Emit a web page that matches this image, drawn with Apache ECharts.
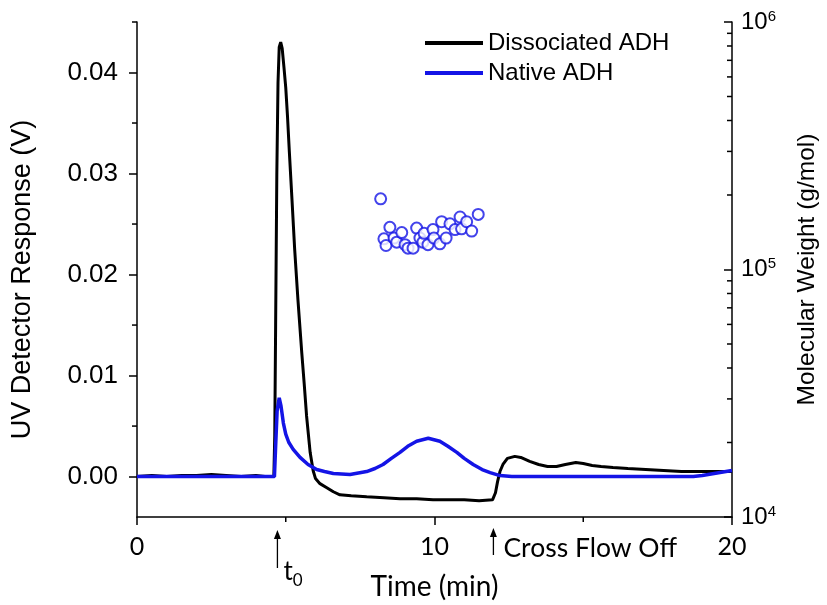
<!DOCTYPE html>
<html><head><meta charset="utf-8">
<script src="https://cdn.jsdelivr.net/npm/echarts@6/dist/echarts.min.js"></script>
<style>html,body{margin:0;padding:0;background:#fff}#c{width:827px;height:605px}</style>
</head><body><div id="c"></div>
<script>
// ---- data ----
const dissocTime = [0.0,0.5,1.0,1.5,2.0,2.5,3.0,3.5,4.0,4.3,4.60,4.63,4.66,4.70,4.74,4.78,4.83,4.88,4.94,5.00,5.06,5.12,5.21,5.30,5.41,5.54,5.62,5.70,5.82,5.92,6.00,6.15,6.38,6.60,6.82,7.2,7.72,8.3,8.84,9.4,9.95,10.5,11.0,11.5,11.95,12.05,12.12,12.2,12.3,12.45,12.7,12.9,13.2,13.5,13.8,14.1,14.4,14.75,15.0,15.3,15.6,16.0,16.5,17.1,17.7,18.3,18.9,19.4,20.0];
const dissocUV = [0.0000,0.0001,0.0000,0.0001,0.0001,0.0002,0.0001,0.0000,0.0001,0.0000,0.0000,0.0040,0.0150,0.0300,0.0390,0.0425,0.0430,0.0424,0.0405,0.0385,0.0356,0.0322,0.0274,0.0225,0.0175,0.0122,0.0092,0.0060,0.0024,0.0006,-0.0002,-0.0007,-0.0011,-0.0015,-0.0018,-0.0019,-0.0020,-0.0021,-0.0022,-0.0022,-0.0023,-0.0023,-0.0023,-0.0024,-0.0023,-0.0016,-0.0005,0.0005,0.0012,0.0018,0.0020,0.0019,0.0015,0.0012,0.0010,0.0010,0.0012,0.0014,0.0013,0.0011,0.0010,0.0009,0.0008,0.0007,0.0006,0.0005,0.0005,0.0005,0.0005];
const nativeTime = [0.0,1.0,2.0,3.0,4.0,4.62,4.66,4.71,4.78,4.84,4.92,5.00,5.10,5.25,5.48,5.75,6.04,6.30,6.60,7.16,7.72,8.00,8.27,8.55,8.84,9.10,9.40,9.79,10.18,10.45,10.75,11.00,11.30,11.60,11.87,12.2,12.6,13.5,15.0,16.5,18.0,18.7,19.0,19.4,20.0];
const nativeUV = [0.0000,0.0000,0.0000,0.0000,0.0000,0.0000,0.0030,0.0065,0.0078,0.0070,0.0053,0.0042,0.0034,0.0027,0.0019,0.0012,0.0007,0.0005,0.0003,0.0002,0.0005,0.0008,0.0012,0.0018,0.0024,0.0030,0.0035,0.0038,0.0035,0.0030,0.0024,0.0018,0.0012,0.0007,0.0004,0.0001,0.0000,0.0000,0.0000,0.0000,0.0000,0.0000,0.0001,0.0003,0.0006];
const mwTime = [8.19,8.30,8.37,8.50,8.64,8.73,8.90,9.01,9.11,9.28,9.40,9.51,9.61,9.65,9.78,9.95,9.98,10.18,10.24,10.39,10.52,10.69,10.86,10.91,11.08,11.25,11.47];
const mwValue = [193000,133000,125000,148000,134000,129000,141000,126000,122000,122000,147000,134000,129000,140000,126000,145000,134000,127000,156000,134000,153000,145000,163000,146000,156000,143000,167000];
const xMinorTicks = [5,15];
const uvTicks = [0,0.01,0.02,0.03,0.04];
const uvMinorTicks = [0.005,0.015,0.025,0.035,0.045];
const mwMinorTicks = [2e4,3e4,4e4,5e4,6e4,7e4,8e4,9e4,2e5,3e5,4e5,5e5,6e5,7e5,8e5,9e5];
const annotations = [
  {t:4.72, label:'{t|t}{s|0}', lineTop:13, lineBottom:51, textDx:6, textDy:57},
  {t:11.98, label:'{c|Cross Flow Off}', lineTop:11, lineBottom:38, textDx:10, textDy:31}
];

const BLUE = '#1414e6';
const TL = {color:'#000', width:1.5};
const chart = echarts.init(document.getElementById('c'));
const option = {
  animation:false,
  backgroundColor:'#fff',
  grid:{left:137, right:95, top:22, bottom:88, outerBoundsMode:'none', containLabel:false},
  legend:{
    data:['Dissociated ADH','Native ADH'], orient:'vertical', left:425, top:31, padding:0,
    itemWidth:58, itemHeight:4, itemGap:6, icon:'rect',
    textStyle:{fontFamily:'Liberation Sans, Arial', fontSize:24, color:'#000'}
  },
  xAxis:{
    type:'value', min:0, max:20, interval:10, position:'bottom',
    axisLine:{show:true, onZero:false, lineStyle:TL}, splitLine:{show:false},
    axisTick:{show:true, inside:false, length:8, lineStyle:TL},
    axisLabel:{fontFamily:'Lato', fontSize:25, color:'#000', margin:17},
    name:'Time (min)', nameLocation:'middle', nameGap:56,
    nameTextStyle:{fontFamily:'Lato', fontSize:28, color:'#000'}
  },
  yAxis:[
    {
      type:'value', min:-0.004, max:0.045, position:'left',
      axisLine:{show:true, onZero:false, lineStyle:TL}, splitLine:{show:false},
      axisTick:{show:true, inside:false, length:8, customValues:uvTicks, lineStyle:TL},
      axisLabel:{customValues:uvTicks, fontFamily:'Liberation Sans, Arial', fontSize:26, color:'#000', margin:19,
        formatter:v=>{const r=Math.round(v*100); return Math.abs(v*100-r)<1e-6 ? (r/100).toFixed(2) : '';}},
      name:'UV Detector Response (V)', nameLocation:'middle', nameGap:101, nameRotate:90,
      nameTextStyle:{fontFamily:'Liberation Sans, Arial', fontSize:27, color:'#000', padding:[0,20,0,0]}
    },
    {
      type:'log', logBase:10, min:1e4, max:1e6, position:'right',
      axisLine:{show:true, onZero:false, lineStyle:TL}, splitLine:{show:false}, minorTick:{show:false},
      axisTick:{show:true, inside:true, length:8, lineStyle:TL},
      axisLabel:{color:'#000', margin:9,
        formatter:v=>'{a|10}{b|'+Math.round(Math.log10(v))+'}',
        rich:{a:{fontFamily:'Liberation Sans, Arial', fontSize:24, lineHeight:26, color:'#000'},
              b:{fontFamily:'Liberation Sans, Arial', fontSize:15, verticalAlign:'top', lineHeight:26, color:'#000'}}},
      name:'Molecular Weight (g/mol)', nameLocation:'middle', nameGap:63, nameRotate:90,
      nameTextStyle:{fontFamily:'Liberation Sans, Arial', fontSize:24.5, color:'#000'}
    }
  ],
  series:[
    {name:'Dissociated ADH', type:'line', yAxisIndex:0, symbol:'none', z:2,
     lineStyle:{color:'#000', width:3}, itemStyle:{color:'#000'},
     data:dissocTime.map((t,i)=>[t, dissocUV[i]])},
    {name:'Native ADH', type:'line', yAxisIndex:0, symbol:'none', z:3,
     lineStyle:{color:BLUE, width:3.5}, itemStyle:{color:BLUE},
     data:nativeTime.map((t,i)=>[t, nativeUV[i]])},
    {name:'MW', type:'scatter', yAxisIndex:1, symbol:'emptyCircle', symbolSize:11, z:4,
     itemStyle:{color:BLUE, borderColor:BLUE, borderWidth:2},
     data:mwTime.map((t,i)=>[t, mwValue[i]])}
  ]
};
chart.setOption(option);

const xPx = v => chart.convertToPixel({xAxisIndex:0}, v);
const yPx = v => chart.convertToPixel({yAxisIndex:0}, v);
const mwPx = v => chart.convertToPixel({yAxisIndex:1}, v);
const left = xPx(0), right = xPx(20), bottomY = yPx(-0.004);
const gfx = [];
const tick = (x1,y1,x2,y2) => gfx.push({type:'line', shape:{x1,y1,x2,y2}, style:{stroke:'#000', lineWidth:1.5}});
xMinorTicks.forEach(v=>{const x=xPx(v); tick(x,bottomY,x,bottomY+5);});
uvMinorTicks.forEach(v=>{const y=yPx(v); tick(left-5,y,left,y);});
mwMinorTicks.forEach(v=>{const y=mwPx(v); tick(right-5,y,right,y);});
annotations.forEach(a=>{
  const x = xPx(a.t);
  const y1 = bottomY + a.lineTop, y2 = bottomY + a.lineBottom;
  gfx.push({type:'line', shape:{x1:x, y1:y1+6, x2:x, y2:y2}, style:{stroke:'#000', lineWidth:1.3}});
  gfx.push({type:'polygon', shape:{points:[[x-3.5,y1+9],[x,y1],[x+3.5,y1+9]]}, style:{fill:'#000'}});
  gfx.push({type:'text', x:x+a.textDx, y:bottomY+a.textDy, style:{
    text:a.label, verticalAlign:'middle', align:'left',
    rich:{t:{fontFamily:'Lato', fontSize:26, lineHeight:30, fill:'#000', verticalAlign:'top'},
          s:{fontFamily:'Lato', fontSize:17, lineHeight:30, fill:'#000', verticalAlign:'bottom'},
          c:{fontFamily:'Lato', fontSize:26.5, fill:'#000'}}
  }});
});
chart.setOption({graphic:gfx});
</script></body></html>
